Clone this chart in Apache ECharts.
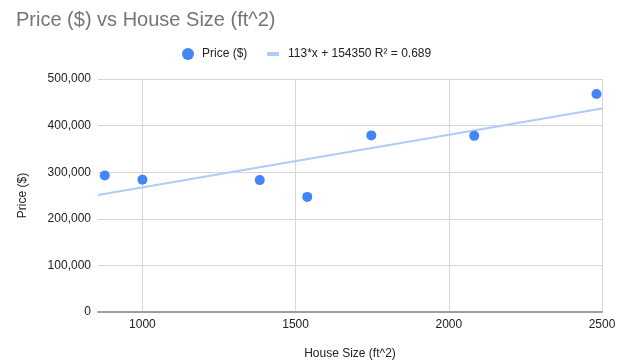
<!DOCTYPE html>
<html>
<head>
<meta charset="utf-8">
<script src="https://cdn.jsdelivr.net/npm/echarts@6/dist/echarts.min.js"></script>
<style>
  html, body { margin: 0; padding: 0; background: #fff; }
  #chart { width: 628px; height: 363px; }
</style>
</head>
<body>
<div id="chart"></div>
<script>
// House size (ft^2) and sale price ($) for each listing
const houseSizes = [877, 1000, 1383, 1538, 1747, 2083, 2482];
const prices = [293000, 284000, 283000, 247000, 379000, 378000, 468000];

// Linear trendline, as reported in the legend
const trendSlope = 113;
const trendIntercept = 154350;
const trendR2 = 0.689;
const trendLabel = trendSlope + '*x + ' + trendIntercept + ' R\u00b2 = ' + trendR2;

// Axis ranges and tick values
const xMin = 855;
const xMax = 2500;
const xTicks = [1000, 1500, 2000, 2500];
const yMin = 0;
const yMax = 500000;
const yStep = 100000;

const FONT = '"Liberation Sans", Arial, sans-serif';

const scatterData = houseSizes.map((s, i) => [s, prices[i]]);
const trendData = [xMin, xMax].map(x => [x, trendSlope * x + trendIntercept]);

const chart = echarts.init(document.getElementById('chart'));
chart.setOption({
  animation: false,
  backgroundColor: '#ffffff',
  title: {
    text: 'Price ($) vs House Size (ft^2)',
    left: 16,
    top: 10,
    padding: 0,
    textStyle: { fontFamily: FONT, fontSize: 20, fontWeight: 'normal', color: '#757575' }
  },
  legend: [
    {
      data: [{ name: 'Price ($)', icon: 'circle' }],
      left: 182,
      top: 48,
      padding: 0,
      itemWidth: 12,
      itemHeight: 12,
      textStyle: { fontFamily: FONT, fontSize: 12, color: '#222', padding: [0, 0, 0, 3] }
    },
    {
      data: [{ name: trendLabel, icon: 'rect' }],
      left: 267,
      top: 48,
      padding: 0,
      itemWidth: 12,
      itemHeight: 4,
      textStyle: { fontFamily: FONT, fontSize: 12, color: '#222', padding: [0, 0, 0, 4] }
    }
  ],
  grid: { left: 98, right: 26, top: 79, bottom: 51, containLabel: false, outerBoundsMode: 'none' },
  xAxis: {
    type: 'value',
    min: xMin,
    max: xMax,
    name: 'House Size (ft^2)',
    nameLocation: 'middle',
    nameGap: 36,
    nameTextStyle: { fontFamily: FONT, fontSize: 12, color: '#222' },
    axisLine: { show: true, onZero: false, lineStyle: { color: '#9e9e9e', width: 2 } },
    axisTick: { show: false, customValues: xTicks },
    axisLabel: {
      customValues: xTicks,
      margin: 7,
      fontFamily: FONT, fontSize: 12, color: '#222',
      formatter: v => String(v)
    },
    splitLine: { show: true, lineStyle: { color: '#d6d6d6', width: 1 } }
  },
  yAxis: {
    type: 'value',
    min: yMin,
    max: yMax,
    interval: yStep,
    name: 'Price ($)',
    nameLocation: 'middle',
    nameGap: 69,
    nameTextStyle: { fontFamily: FONT, fontSize: 12, color: '#222' },
    axisLine: { show: false },
    axisTick: { show: false },
    axisLabel: {
      margin: 7,
      fontFamily: FONT, fontSize: 12, color: '#222',
      formatter: v => v.toLocaleString('en-US')
    },
    splitLine: { show: true, lineStyle: { color: '#d6d6d6', width: 1 } }
  },
  series: [
    {
      name: trendLabel,
      type: 'line',
      data: trendData,
      symbol: 'none',
      itemStyle: { color: '#aecbfa' },
      lineStyle: { color: '#aecbfa', width: 2 },
      silent: true,
      z: 2
    },
    {
      name: 'Price ($)',
      type: 'scatter',
      data: scatterData,
      symbol: 'circle',
      symbolSize: 10,
      itemStyle: { color: '#4285f4', opacity: 1 },
      z: 3
    }
  ]
});
</script>
</body>
</html>
